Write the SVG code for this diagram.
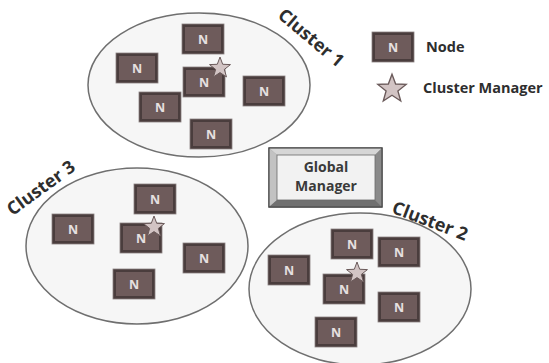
<svg xmlns="http://www.w3.org/2000/svg" xmlns:xlink="http://www.w3.org/1999/xlink" width="549" height="363" viewBox="0 0 549 363">
<style>
.cl{fill:#f6f6f6;stroke:#6f6f6f;stroke-width:1.5}
.nb{fill:#4a3d3d;stroke:#8a8080;stroke-width:0.8}
.nf{fill:#6e5b5b}
.nt{font-family:"Open Sans","Liberation Sans",sans-serif;font-weight:bold;font-size:12.5px;fill:#e6e0e0;text-anchor:middle}
.lb{font-family:"Open Sans","Liberation Sans",sans-serif;font-weight:bold;font-size:18px;fill:#2e2e2e;text-anchor:middle}
.lg{font-family:"Open Sans","Liberation Sans",sans-serif;font-weight:bold;font-size:14.5px;fill:#2e2e2e}
.gm{font-family:"Open Sans","Liberation Sans",sans-serif;font-weight:bold;font-size:14px;fill:#3a3a3a;text-anchor:middle}
.st{fill:#d2c4c4;stroke:#6a5a5a;stroke-width:1}
</style>
<defs>
<path id="star" d="M0,-11 L2.70,-3.72 L10.46,-3.40 L4.37,1.42 L6.47,8.90 L0,4.6 L-6.47,8.90 L-4.37,1.42 L-10.46,-3.40 L-2.70,-3.72 Z"/>
<g id="nodebox">
<rect class="nb" x="0" y="0" width="42" height="30"/>
<rect class="nf" x="3" y="3" width="36" height="24"/>
</g>
</defs>
<rect width="549" height="363" fill="#ffffff"/>

<g id="cluster1">
<ellipse class="cl" cx="199" cy="85" rx="111" ry="72"/>
<text class="lb" transform="translate(311,38) rotate(40)" x="0" y="6">Cluster 1</text>
</g>
<g id="cluster3">
<ellipse class="cl" cx="137" cy="246" rx="111" ry="78"/>
<text class="lb" transform="translate(41,188) rotate(-36)" x="0" y="6">Cluster 3</text>
</g>
<g id="cluster2">
<ellipse class="cl" cx="360" cy="289" rx="111" ry="76"/>
<text class="lb" transform="translate(430,221) rotate(21)" x="0" y="6">Cluster 2</text>
</g>

<g id="global-manager">
<rect x="269" y="148" width="113" height="59" fill="#999" stroke="#4a4a4a" stroke-width="1.2"/>
<polygon points="269,148 382,148 375,155 277,155" fill="#d6d6d6"/>
<polygon points="269,148 277,155 277,200 269,207" fill="#c2c2c2"/>
<polygon points="382,148 382,207 375,200 375,155" fill="#8a8a8a"/>
<polygon points="269,207 277,200 375,200 382,207" fill="#707070"/>
<rect x="277" y="155" width="98" height="45" fill="#f2f2f2" stroke="#6a6a6a" stroke-width="0.8"/>
<rect x="269" y="148" width="113" height="59" fill="none" stroke="#4a4a4a" stroke-width="1.2"/>
<text class="gm" x="326" y="172">Global</text>
<text class="gm" x="326" y="191">Manager</text>
</g>

<g id="n1a"><use xlink:href="#nodebox" x="182" y="24"/><text class="nt" x="203" y="43.5">N</text></g>
<g id="n1b"><use xlink:href="#nodebox" x="116" y="53"/><text class="nt" x="137" y="72.5">N</text></g>
<g id="n1c"><use xlink:href="#nodebox" x="183" y="67"/><text class="nt" x="204" y="86.5">N</text><use xlink:href="#star" class="st" transform="translate(220,68)"/></g>
<g id="n1d"><use xlink:href="#nodebox" x="243" y="76"/><text class="nt" x="264" y="95.5">N</text></g>
<g id="n1e"><use xlink:href="#nodebox" x="139" y="92"/><text class="nt" x="160" y="111.5">N</text></g>
<g id="n1f"><use xlink:href="#nodebox" x="190" y="119"/><text class="nt" x="211" y="138.5">N</text></g>

<g id="n3a"><use xlink:href="#nodebox" x="134" y="184"/><text class="nt" x="155" y="203.5">N</text></g>
<g id="n3b"><use xlink:href="#nodebox" x="52" y="214"/><text class="nt" x="73" y="233.5">N</text></g>
<g id="n3c"><use xlink:href="#nodebox" x="120" y="223"/><text class="nt" x="141" y="242.5">N</text><use xlink:href="#star" class="st" transform="translate(154,227)"/></g>
<g id="n3d"><use xlink:href="#nodebox" x="183" y="243"/><text class="nt" x="204" y="262.5">N</text></g>
<g id="n3e"><use xlink:href="#nodebox" x="113" y="269"/><text class="nt" x="134" y="288.5">N</text></g>

<g id="n2a"><use xlink:href="#nodebox" x="331" y="229"/><text class="nt" x="352" y="248.5">N</text></g>
<g id="n2b"><use xlink:href="#nodebox" x="378" y="237"/><text class="nt" x="399" y="256.5">N</text></g>
<g id="n2c"><use xlink:href="#nodebox" x="268" y="255"/><text class="nt" x="289" y="274.5">N</text></g>
<g id="n2d"><use xlink:href="#nodebox" x="323" y="274"/><text class="nt" x="344" y="293.5">N</text><use xlink:href="#star" class="st" transform="translate(357,273)"/></g>
<g id="n2e"><use xlink:href="#nodebox" x="378" y="292"/><text class="nt" x="399" y="311.5">N</text></g>
<g id="n2f"><use xlink:href="#nodebox" x="315" y="317"/><text class="nt" x="336" y="336.5">N</text></g>

<g id="legend">
<use xlink:href="#nodebox" x="372" y="32"/><text class="nt" x="393" y="51.5">N</text>
<text class="lg" x="426" y="52">Node</text>
<use xlink:href="#star" class="st" transform="translate(392,89) scale(1.35)"/>
<text class="lg" x="423" y="93">Cluster Manager</text>
</g>

<g id="connectors"/>
</svg>
